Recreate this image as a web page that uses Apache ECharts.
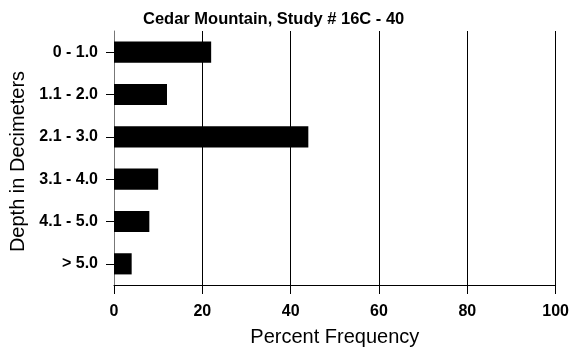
<!DOCTYPE html>
<html>
<head>
<meta charset="utf-8">
<script src="https://cdn.jsdelivr.net/npm/echarts@6/dist/echarts.min.js"></script>
<style>
  html, body { margin: 0; padding: 0; background: #fff; }
  #chart { width: 572px; height: 352px; }
</style>
</head>
<body>
<div id="chart"></div>
<script>
// Depth classes (top to bottom) and their percent frequency
const depthClasses = ['0 - 1.0', '1.1 - 2.0', '2.1 - 3.0', '3.1 - 4.0', '4.1 - 5.0', '> 5.0'];
const percentFrequency = [22, 12, 44, 10, 8, 4];
const xTicks = [0, 20, 40, 60, 80, 100];

const FONT = 'Liberation Sans, Arial, Helvetica, sans-serif';

const chart = echarts.init(document.getElementById('chart'), null, { renderer: 'canvas' });

chart.setOption({
  animation: false,
  backgroundColor: '#ffffff',
  title: {
    text: 'Cedar Mountain, Study # 16C - 40',
    left: 143,
    top: 11,
    padding: 0,
    textStyle: { fontFamily: FONT, fontSize: 16.5, fontWeight: 'bold', color: '#000' }
  },
  grid: { left: 114, right: 15, top: 31, bottom: 65, containLabel: false },
  xAxis: {
    type: 'value',
    min: xTicks[0],
    max: xTicks[xTicks.length - 1],
    interval: xTicks[1] - xTicks[0],
    name: 'Percent Frequency',
    nameLocation: 'middle',
    nameGap: 42,
    nameTextStyle: { fontFamily: FONT, fontSize: 20, color: '#000' },
    axisLine: { show: true, lineStyle: { color: '#000', width: 1 } },
    axisTick: { show: true, inside: false, length: 9, lineStyle: { color: '#000', width: 1 } },
    axisLabel: { margin: 19, fontFamily: FONT, fontSize: 16, fontWeight: 'bold', color: '#000' },
    splitLine: { show: true, lineStyle: { color: '#000', width: 1 } }
  },
  yAxis: {
    type: 'category',
    inverse: true,
    data: depthClasses,
    name: 'Depth in Decimeters',
    nameLocation: 'middle',
    nameGap: 86,
    nameTextStyle: { fontFamily: FONT, fontSize: 20, color: '#000', padding: [0, 7, 0, 0] },
    axisLine: { show: true, lineStyle: { color: '#777', width: 1 } },
    axisTick: { show: true, alignWithLabel: true, length: 8, lineStyle: { color: '#000', width: 1 } },
    axisLabel: { margin: 16, fontFamily: FONT, fontSize: 16, fontWeight: 'bold', color: '#000' },
    splitLine: { show: false }
  },
  series: [{
    type: 'bar',
    data: percentFrequency,
    barWidth: '50%',
    itemStyle: { color: '#000' }
  }]
});
</script>
</body>
</html>
